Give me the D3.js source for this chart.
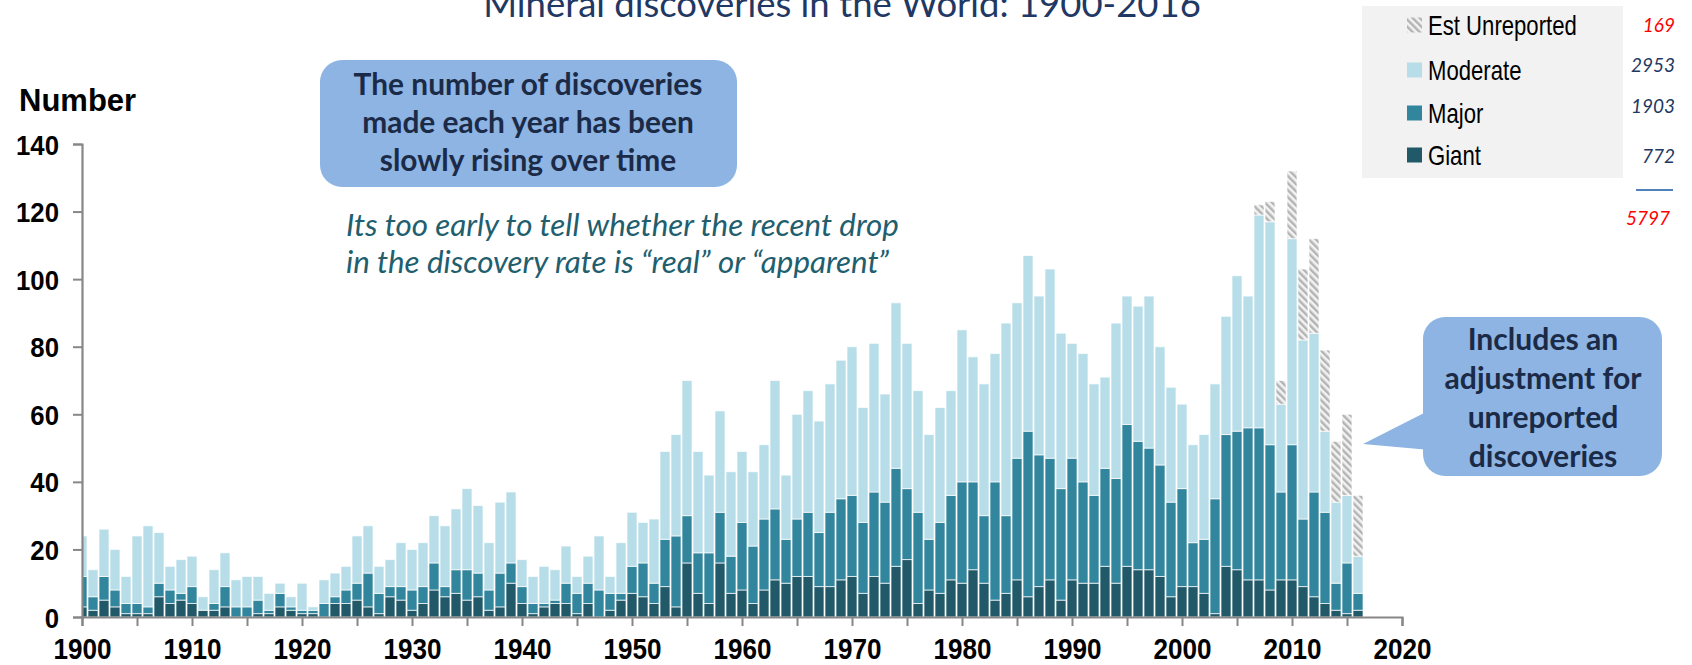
<!DOCTYPE html>
<html><head><meta charset="utf-8">
<script src="https://cdn.jsdelivr.net/npm/d3@7"></script>
<style>body{margin:0;background:#fff;} svg{display:block;}</style>
</head><body><svg id="c" width="1692" height="665"></svg>
<script>
// ---------- DATA ----------
const years = d3.range(1900, 2017);
const giant = [3,2,5,3,1,1,1,6,4,5, 4,2,2,3,0,0,1,1,3,2, 1,1,0,4,4,5,3,1,6,5, 2,4,8,6,7,5,6,2,3,10,
  4,1,3,4,4,1,4,0,2,5, 7,6,4,9,3,16,7,4,16,7, 8,4,8,11,10,12,12,9,9,11, 12,7,12,10,15,17,4,8,7,11,
  10,14,10,5,7,11,6,9,11,5, 11,10,10,15,10,15,14,14,12,6, 9,9,7,1,15,14,11,11,8,11, 11,9,6,4,2,1,2];
const major = [9,4,7,5,3,3,2,4,4,2, 5,0,2,6,3,3,4,1,4,1, 1,1,4,2,4,5,10,6,3,4, 6,5,8,3,7,9,7,6,10,6,
  5,3,1,1,6,6,6,8,5,2, 8,10,6,14,21,14,12,15,15,11, 20,17,21,21,13,17,19,16,22,24, 24,21,25,24,29,21,27,15,21,25,
  30,26,20,35,23,36,49,39,36,33, 36,30,26,29,31,42,38,36,33,28, 29,13,16,34,39,41,45,45,43,26, 40,20,31,27,8,15,5];
const moderate = [12,8,14,12,8,20,24,15,7,10, 9,4,10,10,8,9,7,5,3,3, 8,1,7,7,7,14,14,8,8,13, 12,13,14,18,18,24,20,14,21,21,
  8,8,11,9,11,5,8,16,5,15, 16,12,19,26,30,40,30,23,30,25, 21,22,22,38,19,31,36,33,38,41, 44,34,44,32,49,43,36,31,34,31,
  45,37,39,38,57,46,52,47,56,46, 34,38,33,27,46,38,40,45,35,34, 25,29,31,34,35,46,39,63,66,26, 61,53,47,24,24,20,11];
const unreportedYears = [2007,2008,2009,2010,2011,2012,2013,2014,2015,2016];
const unreportedValues = [3,6,7,20,21,28,24,18,24,18];
const seriesNames = ["Est Unreported","Moderate","Major","Giant"];
const legendTotals = [169, 2953, 1903, 772];
const grandTotal = 5797;
const yTicks = [0,20,40,60,80,100,120,140];
const xMinorTicks = d3.range(1900, 2021, 5);
const xTickLabels = [1900,1910,1920,1930,1940,1950,1960,1970,1980,1990,2000,2010,2020];
const titleText = "Mineral discoveries in the World: 1900-2016";
const boxLines = ["The number of discoveries","made each year has been","slowly rising over time"];
const noteLines = ["Its too early to tell whether the recent drop","in the discovery rate is \u201creal\u201d or \u201capparent\u201d"];
const calloutLines = ["Includes an","adjustment for","unreported","discoveries"];

// ---------- BUILD ----------
const table = years.map((y,i) => ({
  year: y, giant: giant[i], major: major[i], moderate: moderate[i],
  unrep: (unreportedYears.indexOf(y) >= 0) ? unreportedValues[unreportedYears.indexOf(y)] : 0
}));
const keys = ["giant","major","moderate","unrep"];
const stack = d3.stack().keys(keys)(table);

const svg = d3.select("#c");
const x = d3.scaleLinear().domain([1900, 2020]).range([82, 1402]);
const y = d3.scaleLinear().domain([0, 140]).range([617, 144]);
const colors = {giant:"#215968", major:"#31859C", moderate:"#B7DEE8", unrep:"url(#hatch)"};
const ARIAL = "'Liberation Sans', Arial, sans-serif";
const CAL = "Lato, 'Open Sans', sans-serif";

const defs = svg.append("defs");
const pat = defs.append("pattern").attr("id","hatch").attr("patternUnits","userSpaceOnUse")
  .attr("width",5).attr("height",5).attr("patternTransform","rotate(-45)");
pat.append("rect").attr("width",5).attr("height",5).attr("fill","#F2F2F2");
pat.append("rect").attr("x",0).attr("width",2.4).attr("height",5).attr("fill","#B3B3B3");
defs.append("clipPath").attr("id","plotclip").append("rect")
  .attr("x",82).attr("y",0).attr("width",1400).attr("height",617);

function fit(t, w){ const n=t.node(); const cur=n.getComputedTextLength(); const fs=parseFloat(t.attr("font-size")); t.attr("font-size", fs*w/cur); }

// title
const tt = svg.append("text").attr("x",842).attr("y",17).attr("text-anchor","middle")
  .attr("font-family",CAL).attr("font-size",32).attr("fill","#1F3864").text(titleText);
fit(tt, 718);

// bars
const gBars = svg.append("g").attr("clip-path","url(#plotclip)");
gBars.selectAll("g.s").data(stack).join("g").attr("class","s")
  .attr("fill", d => colors[d.key])
  .selectAll("rect").data(d => d.filter(v => v[1] - v[0] > 0)).join("rect")
  .attr("x", d => x(d.data.year) - 5)
  .attr("width", 10)
  .attr("y", d => y(d[1]))
  .attr("height", d => y(d[0]) - y(d[1]))
  .attr("stroke", "rgba(255,255,255,0.7)").attr("stroke-width", 1);

// axes
const axisColor = "#878787";
const yAxis = svg.append("g").attr("transform","translate(82,0)")
  .call(d3.axisLeft(y).tickValues(yTicks).tickSize(9).tickPadding(14).tickFormat(d3.format("d")));
const xAxis = svg.append("g").attr("transform","translate(0,617)")
  .call(d3.axisBottom(x).tickValues(xMinorTicks).tickSize(9).tickFormat(d => xTickLabels.indexOf(d) >= 0 ? d : ""));
[yAxis, xAxis].forEach(a => {
  a.select(".domain").attr("stroke", axisColor).attr("stroke-width", 2.2);
  a.selectAll(".tick line").attr("stroke", axisColor).attr("stroke-width", 2);
  a.selectAll("text").attr("font-family",ARIAL).attr("font-weight","bold").attr("fill","#000");
});
const sxX = 0.9, sxY = 0.92;
xAxis.selectAll("text").attr("font-size",29).attr("dy","1.05em").attr("transform",`scale(${sxX},1)`);
yAxis.selectAll("text").attr("font-size",28).attr("dy","0.36em")
  .attr("x", -23/sxY).attr("transform",`scale(${sxY},1)`);

// y label
svg.append("text").attr("x",19).attr("y",111).attr("font-family",ARIAL)
  .attr("font-weight","bold").attr("font-size",31).attr("fill","#000").text("Number");

// left box
svg.append("rect").attr("x",320).attr("y",60).attr("width",417).attr("height",127).attr("rx",22).attr("ry",22).attr("fill","#8DB4E2");
const bt = svg.append("g");
boxLines.forEach((s,i) => {
  bt.append("text").attr("x",528).attr("y",95 + i*38).attr("text-anchor","middle")
    .attr("font-family",CAL).attr("font-weight","bold").attr("font-size",24)
    .attr("fill","#1B2A47").text(s);
});
{ const first = bt.select("text"); const fs0 = +first.attr("font-size"); const w0 = first.node().getComputedTextLength();
  bt.selectAll("text").attr("font-size", fs0*349/w0); }

// italic note
const nt = svg.append("g");
noteLines.forEach((s,i) => {
  nt.append("text").attr("x",346).attr("y",236 + i*37)
    .attr("font-family",CAL).attr("font-style","italic").attr("font-size",24)
    .attr("fill","#215E6E").text(s);
});
{ const first = nt.select("text"); const fs0 = +first.attr("font-size"); const w0 = first.node().getComputedTextLength();
  nt.selectAll("text").attr("font-size", fs0*553/w0); }

// right callout
svg.append("path").attr("d","M1430,410 L1363,444 L1430,450 Z").attr("fill","#8DB4E2");
svg.append("rect").attr("x",1423).attr("y",317).attr("width",239).attr("height",159).attr("rx",22).attr("ry",22).attr("fill","#8DB4E2");
const ct = svg.append("g");
calloutLines.forEach((s,i) => {
  ct.append("text").attr("x",1543).attr("y",350 + i*39).attr("text-anchor","middle")
    .attr("font-family",CAL).attr("font-weight","bold").attr("font-size",24)
    .attr("fill","#1B2A47").text(s);
});
{ const t = ct.selectAll("text").filter((d,i)=>i===1); const fs0 = +t.attr("font-size"); const w0 = t.node().getComputedTextLength();
  ct.selectAll("text").attr("font-size", fs0*197/w0); }

// legend
svg.append("rect").attr("x",1362).attr("y",6).attr("width",261).attr("height",172).attr("fill","#F2F2F2");
const legKeys = ["unrep","moderate","major","giant"];
const legY = [25, 70, 113, 155];
const lg = svg.append("g");
seriesNames.forEach((n,i) => {
  lg.append("rect").attr("x",1407).attr("y",legY[i]-7.5).attr("width",15).attr("height",15).attr("fill",colors[legKeys[i]]);
  lg.append("text").attr("class","lt").attr("x",0).attr("y",0)
    .attr("transform",`translate(1428,${legY[i]+9.5}) scale(0.82,1)`)
    .attr("font-family",ARIAL).attr("font-size",27)
    .attr("fill","#000").text(n);
});

const numY = [32, 72, 113, 163];
const numColor = ["#FF0000","#1F3864","#1F3864","#1F3864"];
legendTotals.forEach((v,i) => {
  svg.append("text").attr("class","nt").attr("x",1675).attr("y",numY[i]).attr("text-anchor","end")
    .attr("font-family",CAL).attr("font-style","italic").attr("font-size",19)
    .attr("fill",numColor[i]).text(v);
});
svg.append("line").attr("x1",1636).attr("x2",1673).attr("y1",190).attr("y2",190).attr("stroke","#4F81BD").attr("stroke-width",2);
svg.append("text").attr("x",1670).attr("y",225).attr("text-anchor","end")
  .attr("font-family",CAL).attr("font-style","italic").attr("font-size",19)
  .attr("fill","#FF0000").text(grandTotal);
</script></body></html>
